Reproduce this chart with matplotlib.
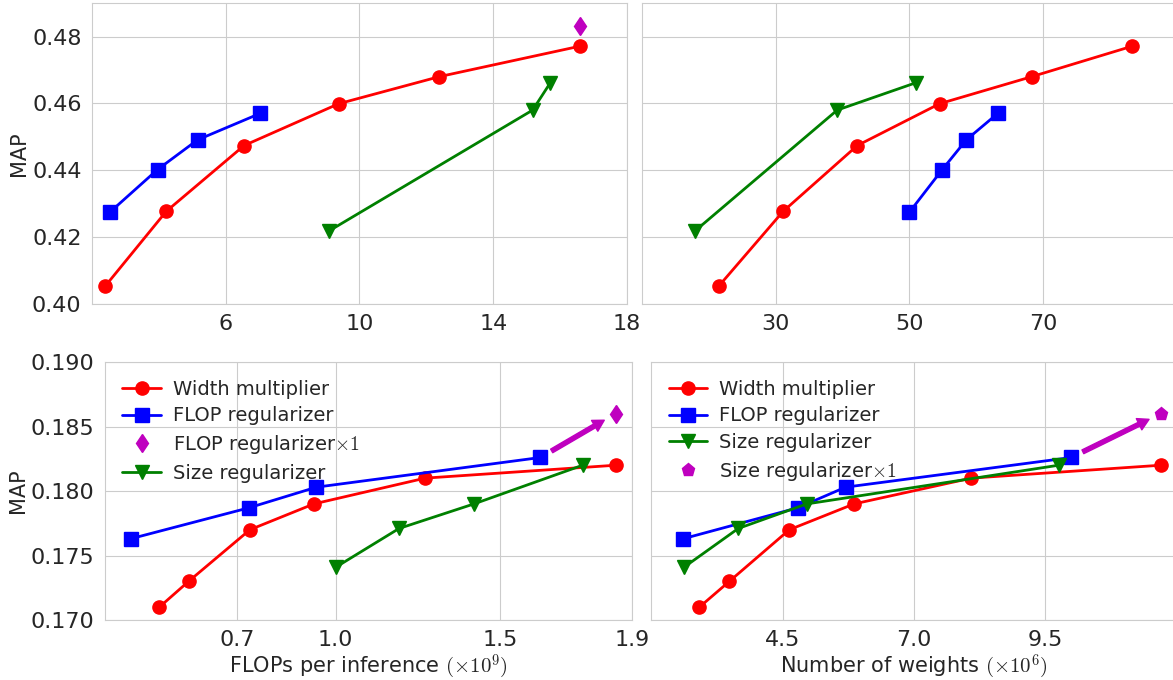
import matplotlib
matplotlib.use("Agg")
import matplotlib.pyplot as plt
import seaborn as sns

# top row: model A (MAP vs FLOPs / weights)
top_width_flops = [2.40, 4.22, 6.55, 9.38, 12.39, 16.59]
top_width_weights = [21.5, 31.1, 42.2, 54.5, 68.3, 83.3]
top_width_map = [0.4054, 0.4277, 0.4474, 0.4599, 0.4680, 0.4771]

top_flopreg_flops = [2.54, 3.96, 5.16, 7.03]
top_flopreg_weights = [50.0, 54.9, 58.5, 63.2]
top_flopreg_map = [0.4275, 0.4402, 0.4491, 0.4570]

top_sizereg_flops = [9.08, 15.18, 15.71]
top_sizereg_weights = [17.9, 39.2, 51.0]
top_sizereg_map = [0.4218, 0.4580, 0.4662]

top_flopx1_flops = [16.59]
top_flopx1_map = [0.4830]

# bottom row: model B
bot_width_flops = [0.465, 0.554, 0.740, 0.934, 1.272, 1.850]
bot_width_weights = [2.92, 3.49, 4.63, 5.86, 8.09, 11.69]
bot_width_map = [0.171, 0.173, 0.177, 0.179, 0.181, 0.182]

bot_flopreg_flops = [0.378, 0.737, 0.942, 1.622]
bot_flopreg_weights = [2.61, 4.79, 5.70, 9.99]
bot_flopreg_map = [0.1763, 0.1787, 0.1803, 0.1826]

bot_sizereg_flops = [1.001, 1.193, 1.420, 1.750]
bot_sizereg_weights = [2.63, 3.66, 4.96, 9.75]
bot_sizereg_map = [0.1741, 0.1771, 0.1790, 0.1820]

bot_flopx1_flops = [1.850]
bot_flopx1_map = [0.1860]
bot_sizex1_weights = [11.69]
bot_sizex1_map = [0.1860]

top_flops_ticks = [6, 10, 14, 18]
top_weights_ticks = [30, 50, 70]
bot_flops_ticks = [0.7, 1.0, 1.5, 1.9]
bot_weights_ticks = [4.5, 7.0, 9.5]
top_map_ticks = [0.40, 0.42, 0.44, 0.46, 0.48]
bot_map_ticks = [0.170, 0.175, 0.180, 0.185, 0.190]

sns.set_style("whitegrid")
plt.rcParams['font.family'] = ['DejaVu Sans']
plt.rcParams['mathtext.fontset'] = 'cm'
plt.rcParams['xtick.major.pad'] = 3.5
plt.rcParams['ytick.major.pad'] = 4

LW = 2.0
MS = 9.5
TICK_FS = 16
LABEL_FS = 15
LEG_FS = 14

fig = plt.figure(figsize=(11.73, 6.8), dpi=100)
ax_tl = fig.add_axes([0.0784, 0.5529, 0.4561, 0.4426])
ax_tr = fig.add_axes([0.5473, 0.5529, 0.4561, 0.4426])
ax_bl = fig.add_axes([0.0895, 0.0882, 0.4493, 0.3794])
ax_br = fig.add_axes([0.555, 0.0882, 0.4484, 0.3794])


def plot_series(ax, x_w, x_f, x_s):
    ax.plot(x_w[0], x_w[1], 'r-o', lw=LW, ms=MS, label='Width multiplier')
    ax.plot(x_f[0], x_f[1], 'b-s', lw=LW, ms=MS, label='FLOP regularizer')
    ax.plot(x_s[0], x_s[1], 'g-v', lw=LW, ms=MS, label='Size regularizer')


# top left
plot_series(ax_tl, (top_width_flops, top_width_map),
            (top_flopreg_flops, top_flopreg_map),
            (top_sizereg_flops, top_sizereg_map))
ax_tl.plot(top_flopx1_flops, top_flopx1_map, 'md', ms=MS, ls='none')
ax_tl.set_xlim(2, 18)
ax_tl.set_xticks(top_flops_ticks)
ax_tl.set_ylim(0.40, 0.49)
ax_tl.set_yticks(top_map_ticks)
ax_tl.set_yticklabels(['%.2f' % v for v in top_map_ticks])
ax_tl.set_ylabel('MAP', fontsize=LABEL_FS, labelpad=2)

# top right
plot_series(ax_tr, (top_width_weights, top_width_map),
            (top_flopreg_weights, top_flopreg_map),
            (top_sizereg_weights, top_sizereg_map))
ax_tr.set_xlim(10, 90)
ax_tr.set_xticks(top_weights_ticks)
ax_tr.set_ylim(0.40, 0.49)
ax_tr.set_yticks(top_map_ticks)
ax_tr.set_yticklabels([])

# bottom left
l1, = ax_bl.plot(bot_width_flops, bot_width_map, 'r-o', lw=LW, ms=MS)
l2, = ax_bl.plot(bot_flopreg_flops, bot_flopreg_map, 'b-s', lw=LW, ms=MS)
l3, = ax_bl.plot(bot_flopx1_flops, bot_flopx1_map, 'md', ms=MS, ls='none')
l4, = ax_bl.plot(bot_sizereg_flops, bot_sizereg_map, 'g-v', lw=LW, ms=MS)
ax_bl.annotate('', xy=(bot_flopx1_flops[0], bot_flopx1_map[0]),
               xytext=(bot_flopreg_flops[-1], bot_flopreg_map[-1]),
               arrowprops=dict(facecolor='m', edgecolor='m', width=3,
                               headwidth=9, headlength=8, shrink=0.15))
ax_bl.legend([l1, l2, l3, l4],
             ['Width multiplier', 'FLOP regularizer',
              r'FLOP regularizer$\times 1$', 'Size regularizer'],
             loc='upper left', fontsize=LEG_FS, frameon=False,
             labelspacing=0.4, handletextpad=0.6)
ax_bl.set_xlim(0.3, 1.9)
ax_bl.set_xticks(bot_flops_ticks)
ax_bl.set_xticklabels(['%.1f' % v for v in bot_flops_ticks])
ax_bl.set_ylim(0.170, 0.190)
ax_bl.set_yticks(bot_map_ticks)
ax_bl.set_yticklabels(['%.3f' % v for v in bot_map_ticks])
ax_bl.set_ylabel('MAP', fontsize=LABEL_FS, labelpad=2)
ax_bl.set_xlabel(r'FLOPs per inference $(\times 10^9)$', fontsize=LABEL_FS,
                 labelpad=2)

# bottom right
r1, = ax_br.plot(bot_width_weights, bot_width_map, 'r-o', lw=LW, ms=MS)
r2, = ax_br.plot(bot_flopreg_weights, bot_flopreg_map, 'b-s', lw=LW, ms=MS)
r3, = ax_br.plot(bot_sizereg_weights, bot_sizereg_map, 'g-v', lw=LW, ms=MS)
r4, = ax_br.plot(bot_sizex1_weights, bot_sizex1_map, 'mp', ms=MS, ls='none')
ax_br.annotate('', xy=(bot_sizex1_weights[0], bot_sizex1_map[0]),
               xytext=(bot_flopreg_weights[-1], bot_flopreg_map[-1]),
               arrowprops=dict(facecolor='m', edgecolor='m', width=3,
                               headwidth=9, headlength=8, shrink=0.13))
ax_br.legend([r1, r2, r3, r4],
             ['Width multiplier', 'FLOP regularizer', 'Size regularizer',
              r'Size regularizer$\times 1$'],
             loc='upper left', fontsize=LEG_FS, frameon=False,
             labelspacing=0.4, handletextpad=0.6)
ax_br.set_xlim(2, 12)
ax_br.set_xticks(bot_weights_ticks)
ax_br.set_xticklabels(['%.1f' % v for v in bot_weights_ticks])
ax_br.set_ylim(0.170, 0.190)
ax_br.set_yticks(bot_map_ticks)
ax_br.set_yticklabels([])
ax_br.set_xlabel(r'Number of weights $(\times 10^6)$', fontsize=LABEL_FS,
                 labelpad=2)

for ax in (ax_tl, ax_tr, ax_bl, ax_br):
    ax.tick_params(labelsize=TICK_FS)
    for sp in ax.spines.values():
        sp.set_clip_on(False)

fig.savefig('out.png', dpi=100)
